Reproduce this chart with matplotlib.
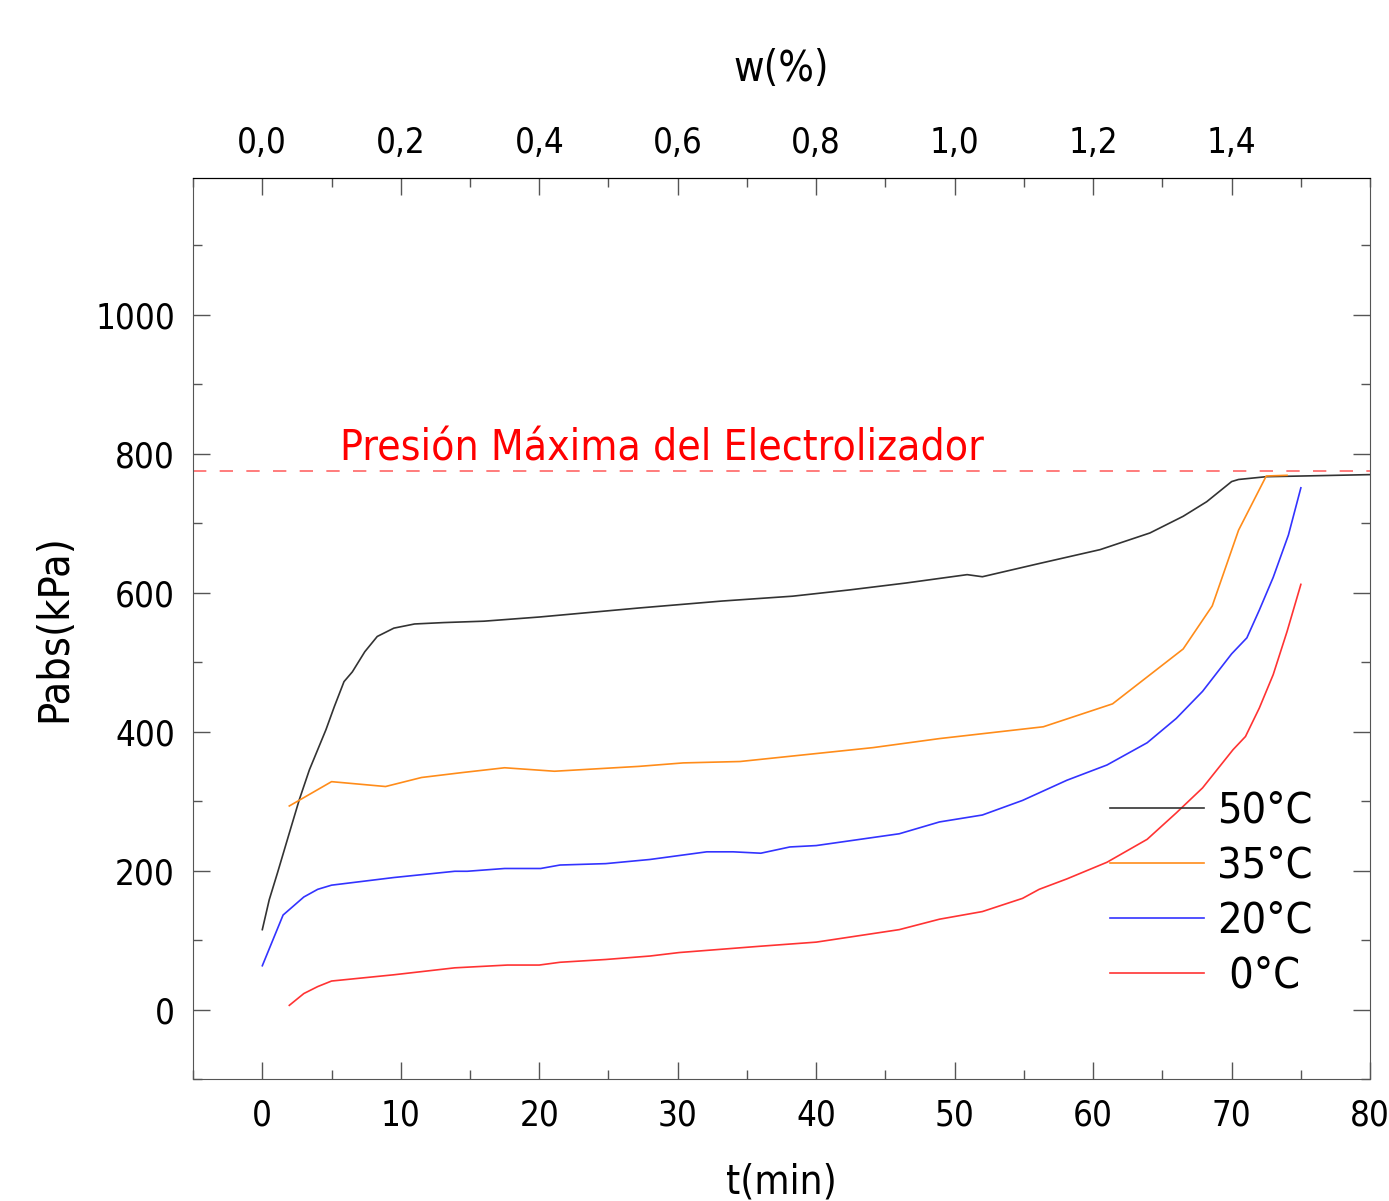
import matplotlib.pyplot as plt
from matplotlib.ticker import MultipleLocator, FixedLocator, FuncFormatter

plt.rcParams['font.family'] = ['DejaVu Sans']
plt.rcParams['font.stretch'] = 'condensed'

# Datos: tiempo (min) y presion absoluta (kPa)
t50 = [0, 0.5, 1.1, 1.95, 2.67, 3.4, 4.0, 4.6, 5.2, 5.9, 6.5, 7.4, 8.3, 9.5, 11.0, 13.1,
       16.0, 20.0, 27.2, 33.2, 38.3, 42.4, 46.5, 50.9, 52.0, 56.1, 60.5, 64.1, 66.5, 68.2,
       70.0, 70.5, 72.5, 75.1, 80.0]
p50 = [115, 158, 197, 254, 302, 345, 374, 403, 436, 472, 486, 515, 537, 549, 555, 557,
       559, 565, 578, 588, 595, 604, 614, 626, 623, 642, 662, 686, 710, 731,
       760, 763, 767, 768, 770]

t35 = [1.95, 5.0, 8.9, 11.5, 14.4, 17.5, 21.1, 27.2, 30.4, 34.5, 39.3, 44.1, 48.9, 56.4,
       61.4, 66.5, 68.6, 70.5, 72.5, 74.0]
p35 = [293, 328, 321, 334, 341, 348, 343, 350, 355, 357, 367, 377, 390, 407,
       440, 519, 581, 690, 768, 769]

t20 = [0, 1.5, 3.0, 4.0, 5.0, 9.5, 13.9, 14.8, 17.5, 20.1, 21.5, 24.8, 28.0, 32.1, 34.0,
       36.0, 38.1, 40.0, 46.0, 48.9, 52.0, 54.9, 58.1, 61.0, 63.9, 66.0, 67.9, 70.0, 71.1,
       72.0, 73.0, 74.1, 75.0]
p20 = [63, 136, 162, 173, 179, 190, 199, 199, 203, 203, 208, 210, 216, 227, 227,
       225, 234, 236, 253, 270, 280, 301, 330, 352, 384, 419, 458, 512, 535,
       575, 622, 683, 751]

t0 = [1.95, 3.0, 4.0, 5.0, 9.5, 13.9, 17.7, 20.0, 21.5, 24.8, 28.0, 30.1, 35.9, 40.0,
      46.0, 48.9, 52.0, 54.9, 56.1, 58.1, 61.0, 63.9, 66.0, 67.9, 70.1, 71.0, 72.0, 73.0,
      74.0, 75.0]
p0 = [6, 23, 33, 41, 50, 60, 64, 64, 68, 72, 77, 82, 91, 97,
      115, 130, 141, 160, 173, 188, 212, 245, 283, 319, 374, 393, 434, 482,
      544, 612]

presionMax = 775
wTicks = [0.0, 0.2, 0.4, 0.6, 0.8, 1.0, 1.2, 1.4]

fig = plt.figure(figsize=(13.89, 12.01), dpi=100)
ax = fig.add_axes([0.139, 0.1016, 0.8474, 0.7502])

ax.plot(t50, p50, color='#333333', lw=1.2, label='50°C')
ax.plot(t35, p35, color='#ff8c1a', lw=1.2, label='35°C')
ax.plot(t20, p20, color='#3333ff', lw=1.2, label='20°C')
ax.plot(t0, p0, color='#ff3333', lw=1.2, label=' 0°C')

ax.axhline(presionMax, color='#ff6666', lw=1.2, dashes=(8, 8))
ax.text(5.6, 790, 'Presión Máxima del Electrolizador', color='red', fontsize=30.5)

ax.set_xlim(-5, 80)
ax.set_ylim(-100, 1197)
ax.xaxis.set_major_locator(MultipleLocator(10))
ax.xaxis.set_minor_locator(MultipleLocator(5))
ax.yaxis.set_major_locator(MultipleLocator(200))
ax.yaxis.set_minor_locator(MultipleLocator(100))
ax.tick_params(which='both', direction='in', right=True, labelsize=25, color='#555555')
ax.tick_params(which='major', length=12, width=1)
ax.tick_params(which='minor', length=6.5, width=1)
ax.tick_params(axis='x', pad=14)
ax.tick_params(axis='y', pad=13)
for s in ['bottom', 'right', 'left']:
    ax.spines[s].set_color('#555555')
ax.spines['top'].set_color('black')

ax.set_xlabel('t(min)', fontsize=29, labelpad=22)
ax.set_ylabel('Pabs(kPa)', fontsize=31, labelpad=14)

# Eje superior: fraccion masica w(%)
sec = ax.secondary_xaxis('top', functions=(lambda x: x * 0.02, lambda w: w / 0.02))
sec.xaxis.set_major_locator(FixedLocator(wTicks))
sec.xaxis.set_minor_locator(MultipleLocator(0.1))
sec.xaxis.set_major_formatter(FuncFormatter(lambda v, p: f'{v:.1f}'.replace('.', ',')))
sec.tick_params(which='both', direction='in', labelsize=25, color='#555555', pad=13)
sec.tick_params(which='major', length=12, width=1)
sec.tick_params(which='minor', length=6.5, width=1)
sec.set_xlabel('w(%)', fontsize=30, labelpad=32)

ax.legend(loc='lower right', bbox_to_anchor=(0.977, 0.058), frameon=False, fontsize=31,
          handlelength=2.2, handletextpad=0.3, labelspacing=0.3, borderaxespad=0.3)

fig.savefig('out.png', dpi=100)
